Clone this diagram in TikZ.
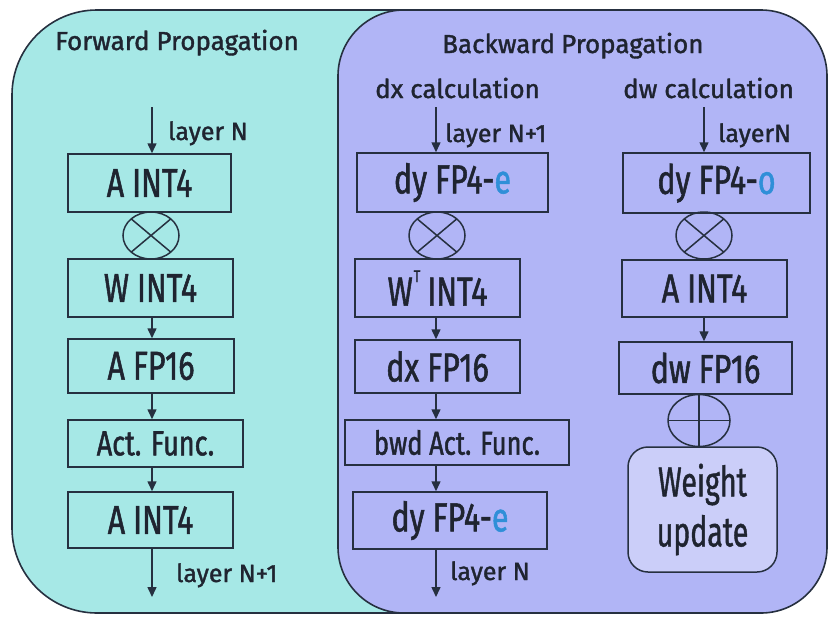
\documentclass[tikz,border=0pt]{standalone}
\usepackage{fontspec}
\setmainfont[FakeBold=1.4]{Fira Sans}
\newfontfamily\boxfont[FakeStretch=0.75, FakeBold=1.3]{Fira Sans}
\newfontfamily\actfont[FakeStretch=0.77, FakeBold=1.3]{Fira Sans}
\newfontfamily\updfont[FakeStretch=0.68, FakeBold=1.0]{Fira Sans}
\usetikzlibrary{shapes.geometric,arrows.meta,calc}

\definecolor{fwdbg}{HTML}{A6E8E6}
\definecolor{bwdbg}{HTML}{B1B5F6}
\definecolor{updbg}{HTML}{CBCEF9}
\definecolor{linec}{HTML}{263040}
\definecolor{txtc}{HTML}{1F2430}
\definecolor{hilite}{HTML}{2F8FD8}

\tikzset{
  panel/.style={draw=linec, line width=1.6pt},
  blk/.style={draw=linec, line width=1.5pt, inner sep=0pt, text=txtc,
    font=\boxfont\fontsize{40.5}{42}\selectfont},
  smallblk/.style={blk, font=\actfont\fontsize{35}{37}\selectfont},
  mulop/.style={ellipse, draw=linec, line width=1.5pt, inner sep=0pt,
    minimum width=56pt, minimum height=47pt,
    path picture={\draw[linec, line width=1.5pt]
      (path picture bounding box.north west) -- (path picture bounding box.south east)
      (path picture bounding box.north east) -- (path picture bounding box.south west);}},
  addop/.style={ellipse, draw=linec, line width=1.5pt, inner sep=0pt,
    minimum width=62pt, minimum height=52pt,
    path picture={\draw[linec, line width=1.5pt]
      (path picture bounding box.north) -- (path picture bounding box.south)
      (path picture bounding box.west) -- (path picture bounding box.east);}},
  ttl/.style={anchor=base west, inner sep=0pt, text=txtc,
    font=\fontsize{26}{28}\selectfont},
  lbl/.style={anchor=base west, inner sep=0pt, text=txtc,
    font=\fontsize{25}{27}\selectfont},
  arr/.style={draw=linec, line width=1.5pt, -{Triangle[length=10pt,width=9pt]}},
}

\begin{document}
\begin{tikzpicture}[x=1pt, y=-1pt]
\useasboundingbox (0,0) rectangle (832,616);
\fill[white] (0,0) rectangle (832,616);

% panels
\draw[panel, fill=fwdbg, rounded corners=85pt] (12,10) rectangle (560,613);
\draw[panel, fill=bwdbg, rounded corners=66pt] (338,10) rectangle (827,613);

% headings
\node[ttl] (fwdttl) at (55,50) {Forward Propagation};
\node[ttl] (bwdttl) at (442,53) {Backward\hspace{6pt}Propagation};
\node[ttl] (dxttl) at (375,98) {dx calculation};
\node[ttl] (dwttl) at (623,98) {dw calculation};

% ---------- forward column ----------
\coordinate (fin) at (152,107);
\node[blk, minimum width=163pt, minimum height=58pt] (fa1) at (149.5,183) {A INT4};
\node[mulop] (fmul) at (151,235.5) {};
\node[blk, minimum width=165pt, minimum height=58pt] (fw) at (150.5,288) {W INT4};
\node[blk, minimum width=166pt, minimum height=54pt] (ff16) at (151,366) {A FP16};
\node[smallblk, minimum width=175pt, minimum height=47pt] (fact) at (155.5,443.5) {Act. Func.};
\node[blk, minimum width=165pt, minimum height=56pt] (fa2) at (150.5,520) {A INT4};
\coordinate (fout) at (152,597);

\draw[arr] (fin) -- (fin |- fa1.north);
\draw[arr] (fin |- fw.south) -- (fin |- ff16.north);
\draw[arr] (fin |- ff16.south) -- (fin |- fact.north);
\draw[arr] (fin |- fact.south) -- (fin |- fa2.north);
\draw[arr] (fin |- fa2.south) -- (fout);
\node[lbl] (fintxt) at (168,140) {layer N};
\node[lbl] (fouttxt) at (176,582) {layer N+1};

% ---------- dx column ----------
\coordinate (xin) at (436,107);
\node[blk, minimum width=191pt, minimum height=59pt] (dy1) at (452.5,182.5) {dy FP4-\textcolor{hilite}{e}};
\node[mulop] (xmul) at (437,235.5) {};
\node[blk, minimum width=165pt, minimum height=58pt] (wt) at (437.5,288) {W\hspace{1pt}\raisebox{1.1ex}{\fontsize{17}{17}\selectfont T}\hspace{7pt}INT4};
\node[blk, minimum width=165pt, minimum height=53pt] (dx16) at (437.5,366.5) {dx FP16};
\node[smallblk, minimum width=224pt, minimum height=45pt, font=\actfont\fontsize{33}{35}\selectfont] (bact) at (457,442.5) {bwd Act. Func.};
\node[blk, minimum width=194pt, minimum height=57pt] (dy2) at (450,520.5) {dy FP4-\textcolor{hilite}{e}};
\coordinate (xout) at (436,597);

\draw[arr] (xin) -- (xin |- dy1.north);
\draw[arr] (xin |- wt.south) -- (xin |- dx16.north);
\draw[arr] (xin |- dx16.south) -- (xin |- bact.north);
\draw[arr] (xin |- bact.south) -- (xin |- dy2.north);
\draw[arr] (xin |- dy2.south) -- (xout);
\node[lbl] (xintxt) at (445,142) {layer N+1};
\node[lbl] (xouttxt) at (450,580) {layer N};

% ---------- dw column ----------
\coordinate (win) at (704,107);
\node[blk, minimum width=187pt, minimum height=60pt] (dyo) at (716.5,183) {dy FP4-\textcolor{hilite}{o}};
\node[mulop] (wmul) at (704,235.5) {};
\node[blk, minimum width=165pt, minimum height=57pt] (ai) at (704.5,288.5) {A INT4};
\node[blk, minimum width=173pt, minimum height=52pt] (dw16) at (705.5,368) {dw FP16};
\node[addop] (wadd) at (699,420.5) {};
\node[blk, fill=updbg, rounded corners=20pt, minimum width=149pt, minimum height=125pt,
      align=center, font=\updfont\fontsize{42}{50}\selectfont] (wupd) at (702.5,509.5) {Weight\\update};

\draw[arr] (win) -- (win |- dyo.north);
\draw[arr] (win |- ai.south) -- (win |- dw16.north);
\node[lbl] (wintxt) at (718,142) {layerN};
\end{tikzpicture}
\end{document}
